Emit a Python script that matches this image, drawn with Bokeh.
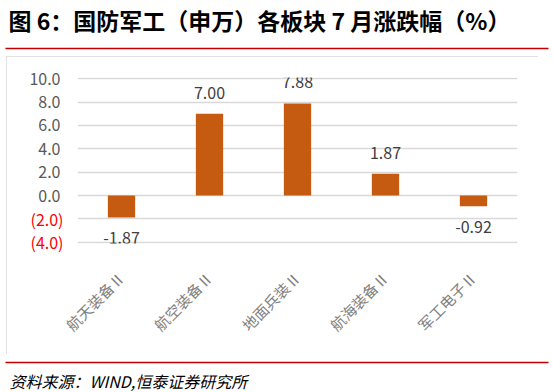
import math
from bokeh.plotting import figure
from bokeh.layouts import column, row
from bokeh.models import (ColumnDataSource, FixedTicker, Range1d, LinearAxis, Spacer)
from bokeh.core.properties import value
from bokeh.embed import file_html
from bokeh.resources import INLINE

# ---- data ----
categories = ["航天装备Ⅱ", "航空装备Ⅱ", "地面兵装Ⅱ", "航海装备Ⅱ", "军工电子Ⅱ"]
changes = [-1.87, 7.00, 7.88, 1.87, -0.92]
y_ticks = [-4, -2, 0, 2, 4, 6, 8, 10]
y_tick_labels = ["(4.0)", "(2.0)", "0.0", "2.0", "4.0", "6.0", "8.0", "10.0"]
title_text = "图 6：国防军工（申万）各板块 7 月涨跌幅（%）"
source_text = "资料来源：WIND,恒泰证券研究所"

FONT = "Noto Sans CJK SC"
W, H = 553, 392
TOP_H, BOT_H = 56, 38
MW, MH = 532, H - TOP_H - BOT_H          # chart box
FL, FR, FT, FB = 71, 511, 21, 187         # frame inside chart box
RED = "#c00000"


def blank(w, h):
    f = figure(width=w, height=h, x_range=Range1d(0, w), y_range=Range1d(h, 0),
               output_backend="svg", toolbar_location=None,
               x_axis_location=None, y_axis_location=None,
               min_border=0, min_border_left=0, min_border_right=0,
               min_border_top=0, min_border_bottom=0)
    f.grid.visible = False
    f.outline_line_color = None
    f.background_fill_color = "white"
    f.border_fill_color = "white"
    return f


# ---- header ----
top = blank(W, TOP_H)
top.text(x=[8], y=[19], text=[title_text], text_font=value(FONT),
         text_font_size="23px", text_font_style="bold", text_color="#000000",
         text_baseline="middle", text_align="left")
top.segment(x0=[5], y0=[48], x1=[548], y1=[48], line_color=RED, line_width=1.6)

# ---- footer ----
bot = blank(W, BOT_H)
bot.segment(x0=[5], y0=[8], x1=[548], y1=[8], line_color=RED, line_width=1.6)
bot.text(x=[9], y=[26], text=[source_text], text_font=value(FONT),
         text_font_size="16px", text_font_style="italic", text_color="#000000",
         text_baseline="middle", text_align="left")

# ---- chart ----
src = ColumnDataSource(dict(
    cat=categories,
    val=changes,
    lab=["%.2f" % v for v in changes],
    off=[-21 if v >= 0 else 21 for v in changes],
))

p = figure(x_range=categories, y_range=Range1d(-4.1, 10.1),
           width=MW, height=MH, output_backend="svg", toolbar_location=None,
           min_border_left=FL, min_border_right=MW - FR,
           min_border_top=FT, min_border_bottom=MH - FB)
p.outline_line_color = None
p.background_fill_color = "white"
p.border_fill_color = "white"
p.styles = {"outline": "1.5px solid #d9d9d9", "outline-offset": "-1.5px"}

p.vbar(x="cat", top="val", bottom=0, width=0.31, source=src,
       fill_color="#c55a11", line_color=None)
p.text(x="cat", y="val", text="lab", y_offset="off", source=src,
       text_align="center", text_baseline="middle",
       text_font=value(FONT), text_font_size="16px", text_color="#404040")

p.xgrid.grid_line_color = None
p.ygrid.grid_line_color = "#d9d9d9"
p.ygrid.grid_line_width = 1.3
p.ygrid.ticker = FixedTicker(ticks=y_ticks)

xax = p.below[0]
yax = p.left[0]
yax.ticker = FixedTicker(ticks=y_ticks)
yax.major_label_overrides = {t: (l if t >= 0 else "") for t, l in zip(y_ticks, y_tick_labels)}
yax.major_label_text_color = "#595959"
yax.major_label_standoff = 11

red_ax = LinearAxis(ticker=FixedTicker(ticks=y_ticks),
                    major_label_overrides={t: (l if t < 0 else "") for t, l in zip(y_ticks, y_tick_labels)})
red_ax.major_label_text_color = "#ff0000"
red_ax.major_label_standoff = -43
p.add_layout(red_ax, "left")

for ax in (yax, red_ax):
    ax.major_label_text_font_size = "16px"
for ax in (xax, yax, red_ax):
    ax.axis_line_color = None
    ax.major_tick_line_color = None
    ax.minor_tick_line_color = None
    ax.major_label_text_font = FONT
xax.major_label_text_font_size = "15px"
xax.major_label_text_color = "#7f7f7f"
xax.major_label_orientation = math.pi / 4
xax.major_label_standoff = 25

layout = column(top, row(Spacer(width=6, height=MH), p), bot)
open("out.html", "w").write(file_html(layout, INLINE))
